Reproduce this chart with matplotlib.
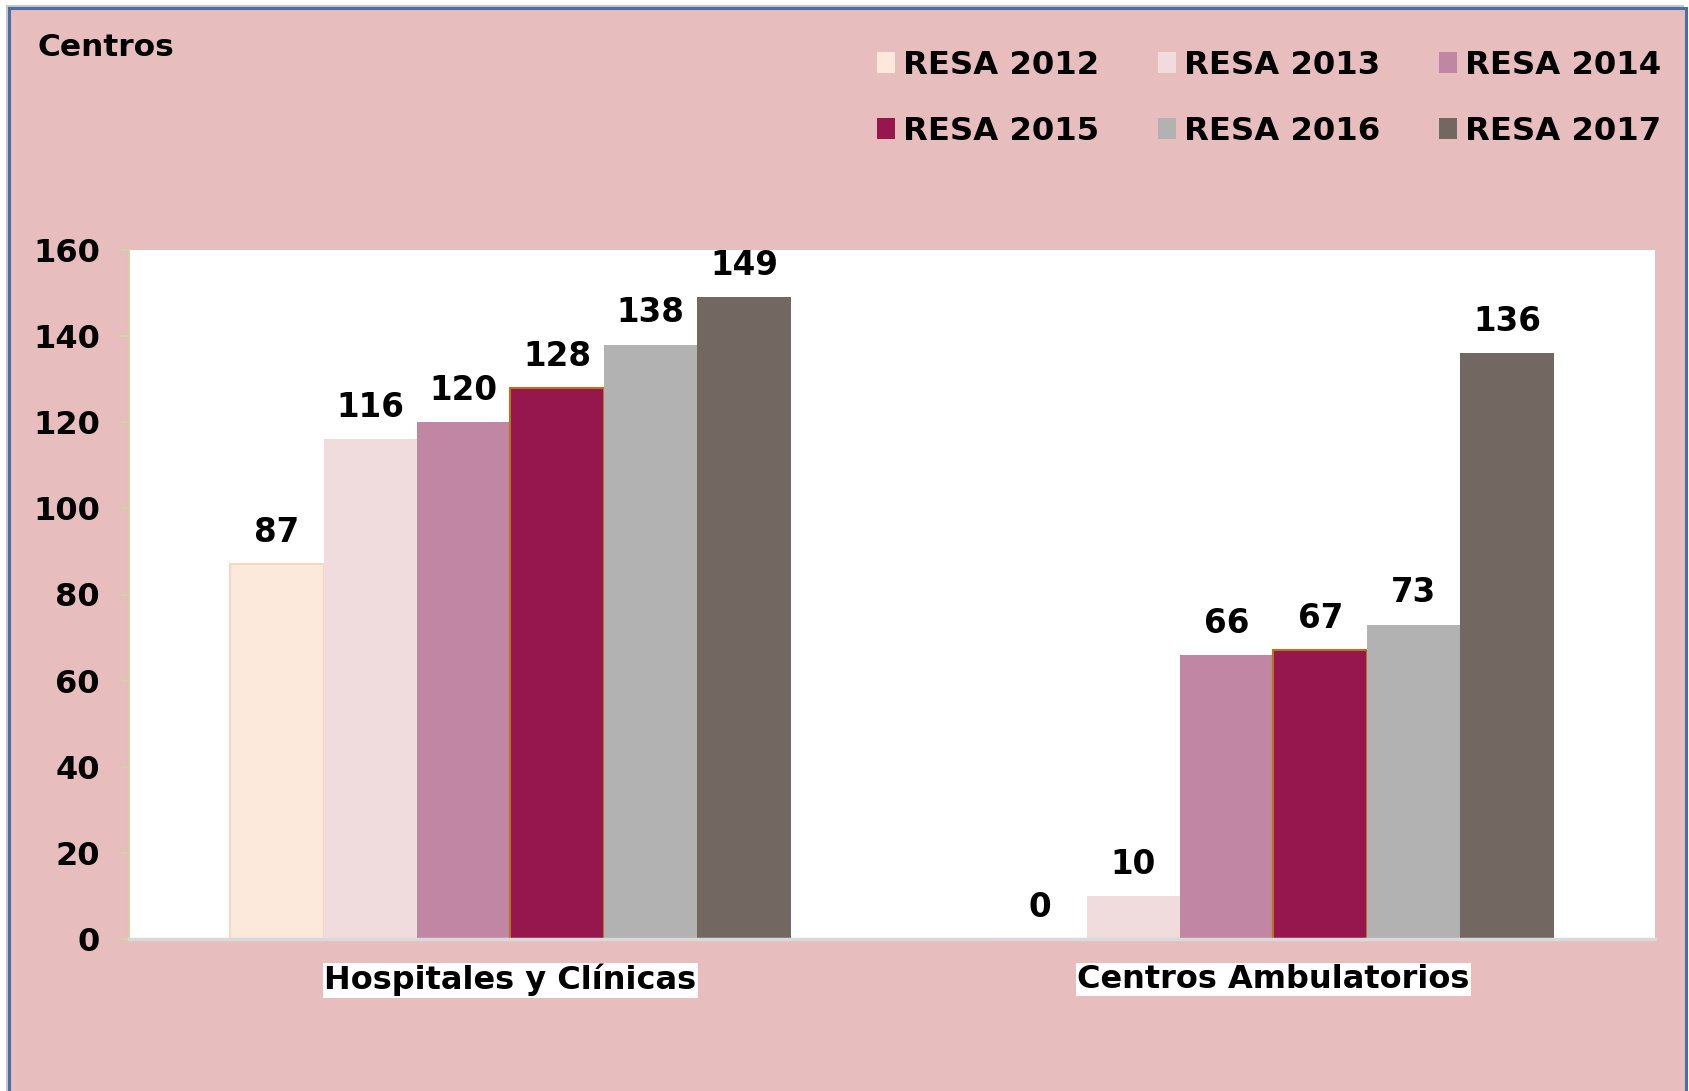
import matplotlib.pyplot as plt
from matplotlib.patches import Rectangle, Patch
import numpy as np

categories = ['Hospitales y Clínicas', 'Centros Ambulatorios']
series = ['RESA 2012', 'RESA 2013', 'RESA 2014', 'RESA 2015', 'RESA 2016', 'RESA 2017']
values = {
    'RESA 2012': [87, 0],
    'RESA 2013': [116, 10],
    'RESA 2014': [120, 66],
    'RESA 2015': [128, 67],
    'RESA 2016': [138, 73],
    'RESA 2017': [149, 136],
}
colors = ['#fce9db', '#f0dcdc', '#c086a4', '#96174e', '#b2b2b2', '#736762']
edges = ['#efdcc0', 'none', 'none', '#b8731d', 'none', 'none']
yticks = [0, 20, 40, 60, 80, 100, 120, 140, 160]

plt.rcParams['font.family'] = 'DejaVu Sans'
plt.rcParams['font.weight'] = 'bold'

fig = plt.figure(figsize=(16.9, 10.91), dpi=100)
fig.patch.set_facecolor('white')

# pink panel with blue frame
W, H = 1690, 1091
fig.patches.append(Rectangle((6 / W, -0.05), (1684 - 6) / W, 1.05 - 5 / H, transform=fig.transFigure,
                             facecolor='#c8c8c8', edgecolor='none', zorder=-3))
fig.patches.append(Rectangle((9 / W, -0.05), (1686 - 9) / W, 1.05 - 8 / H, transform=fig.transFigure,
                             facecolor='#e7bdbe', edgecolor='#4a6fa5', linewidth=2.2, zorder=-2))

ax = fig.add_axes([129 / W, 1 - 939 / H, (1655 - 129) / W, (939 - 250) / H])
ax.set_facecolor('white')

x = np.arange(len(categories))
bw = 0.1224
n = len(series)
for i, s in enumerate(series):
    off = (i - (n - 1) / 2) * bw
    b = ax.bar(x + off, values[s], bw, color=colors[i], edgecolor=edges[i],
               linewidth=1.5 if edges[i] != 'none' else 0, label=s, zorder=2)
    ax.bar_label(b, padding=11, fontsize=23.5, fontweight='bold', color='black')

ax.set_xlim(-0.5, 1.5)
ax.set_ylim(0, 160)
ax.set_yticks(yticks)
ax.tick_params(axis='y', labelsize=23, length=6, width=1.5, color='#d8d0a8', pad=15)
ax.set_xticks(x)
ax.set_xticklabels(categories, fontsize=23, fontweight='bold')
ax.tick_params(axis='x', length=0, pad=18)
for lab in ax.get_xticklabels():
    lab.set_bbox(dict(facecolor='white', edgecolor='none', pad=1))
for sp in ['top', 'right']:
    ax.spines[sp].set_visible(False)
ax.spines['left'].set_color('#d8d0a8')
ax.spines['left'].set_linewidth(1.5)
ax.spines['bottom'].set_color('#d9d9d9')
ax.spines['bottom'].set_linewidth(2.5)

fig.text(38 / W, 1 - 48 / H, 'Centros', fontsize=22.5, fontweight='bold', va='center', ha='left')

order = [0, 3, 1, 4, 2, 5]
handles = [Patch(facecolor=colors[i], edgecolor='none') for i in order]
labels = [series[i] for i in order]
fig.legend(handles, labels, ncol=3, loc='upper left', bbox_to_anchor=(877 / W, 1 - 50 / H),
           frameon=False, handlelength=0.55, handleheight=0.6, handletextpad=0.25,
           columnspacing=1.83, labelspacing=1.08, borderpad=0, borderaxespad=0,
           prop={'weight': 'bold', 'size': 23.2})

fig.savefig('out.png', dpi=100)
